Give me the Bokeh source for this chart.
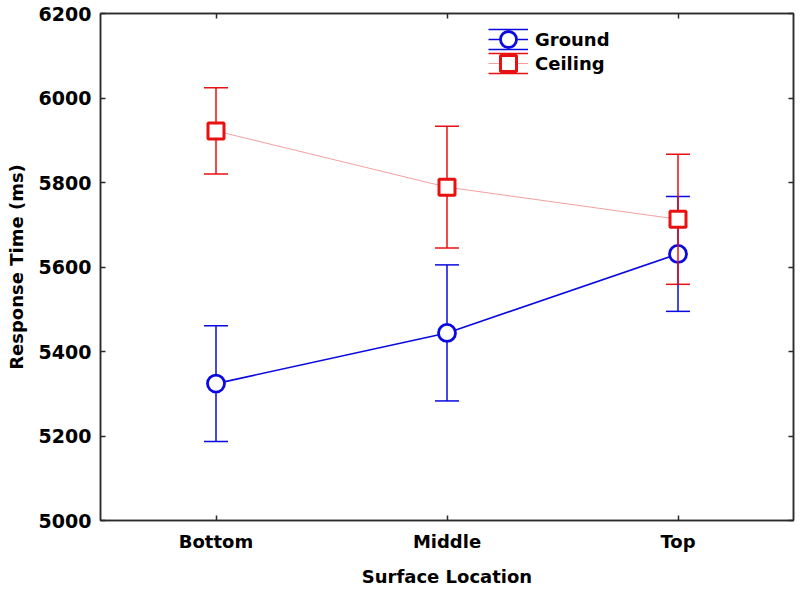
from bokeh.plotting import figure
from bokeh.models import (ColumnDataSource, Whisker, TeeHead, FixedTicker, LinearAxis,
                          Range1d, Legend, LegendItem)
from bokeh.embed import file_html
from bokeh.resources import INLINE

# ---- data ----
categories = ["Bottom", "Middle", "Top"]
ground_mean = [5324, 5444, 5631]
ground_err = [137, 161, 136]
ceiling_mean = [5922, 5789, 5713]
ceiling_err = [102, 144, 154]
y_ticks = [5000, 5200, 5400, 5600, 5800, 6000, 6200]
series_names = ["Ground", "Ceiling"]

FONT = "DejaVu Sans"
BLUE = "#0a0ae0"
RED = "#e81010"
PINK = "#f2a0a0"
AX = "#2a2a2a"

xs = [i + 1 for i in range(len(categories))]

p = figure(width=800, height=589, output_backend="svg", toolbar_location=None,
           x_range=Range1d(0.5, len(categories) + 0.5),
           y_range=Range1d(y_ticks[0], y_ticks[-1]),
           min_border_left=100, min_border_top=13, min_border_right=7, min_border_bottom=69)
p.xgrid.grid_line_color = None
p.ygrid.grid_line_color = None
p.outline_line_color = AX
p.outline_line_width = 1.5
p.background_fill_color = "white"
p.border_fill_color = "white"


def style_axis(ax, labels=True, font_size="18px"):
    ax.axis_line_color = AX
    ax.axis_line_width = 1.5
    ax.major_tick_line_color = AX
    ax.major_tick_line_width = 1.5
    ax.major_tick_in = 5
    ax.major_tick_out = 0
    ax.minor_tick_line_color = None
    if labels:
        ax.major_label_text_font = FONT
        ax.major_label_text_font_style = "bold"
        ax.major_label_text_font_size = font_size
        ax.major_label_text_color = "black"
        ax.axis_label_text_font = FONT
        ax.axis_label_text_font_style = "bold"
        ax.axis_label_text_font_size = "18px"
        ax.axis_label_text_color = "black"
    else:
        ax.major_label_text_font_size = "0px"
        ax.major_label_standoff = 0


# bottom axis
xa = p.xaxis[0]
xa.ticker = FixedTicker(ticks=xs)
xa.major_label_overrides = {x: c for x, c in zip(xs, categories)}
xa.axis_label = "Surface Location"
style_axis(xa, True, "18px")
xa.major_label_standoff = 10
xa.axis_label_standoff = 11

# left axis
ya = p.yaxis[0]
ya.ticker = FixedTicker(ticks=y_ticks)
ya.axis_label = "Response Time (ms)"
style_axis(ya, True, "19px")
ya.major_label_standoff = 9
ya.axis_label_standoff = 9

# top and right axes (ticks only)
top = LinearAxis(ticker=FixedTicker(ticks=xs))
style_axis(top, False)
top.major_label_overrides = {x: "" for x in xs}
p.add_layout(top, "above")
right = LinearAxis(ticker=FixedTicker(ticks=y_ticks))
style_axis(right, False)
right.major_label_overrides = {t: "" for t in y_ticks}
p.add_layout(right, "right")


def make_series(mean, err, color, line_color, line_width, marker, size, mline):
    src = ColumnDataSource(dict(
        x=xs, y=mean,
        upper=[m + e for m, e in zip(mean, err)],
        lower=[m - e for m, e in zip(mean, err)],
    ))
    stems = p.segment(x0="x", y0="lower", x1="x", y1="upper", source=src,
                      line_color=color, line_width=1.5)
    w = Whisker(base="x", upper="upper", lower="lower", source=src, dimension="height",
                line_alpha=0,
                upper_head=TeeHead(size=24, line_color=color, line_width=1.5),
                lower_head=TeeHead(size=24, line_color=color, line_width=1.5))
    p.add_layout(w)
    ln = p.line("x", "y", source=src, line_color=line_color, line_width=line_width)
    sc = p.scatter("x", "y", source=src, marker=marker, size=size,
                   line_color=color, line_width=mline, fill_color="white")
    return stems, ln, sc


g_stems, g_line, g_sc = make_series(ground_mean, ground_err, BLUE, BLUE, 1.6, "circle", 17, 2.8)
c_stems, c_line, c_sc = make_series(ceiling_mean, ceiling_err, RED, PINK, 1.0, "square", 16, 3)

# ---- legend: symbol (line + marker) and error-bar caps ----
FRAME_BOTTOM_SCREEN = 520
LEG_X = 388
entries = [
    (series_names[0], g_line, g_sc, g_stems, 39),
    (series_names[1], c_line, c_sc, c_stems, 63),
]
for name, ln, sc, st, cy in entries:
    main = Legend(items=[LegendItem(label=name, renderers=[ln, sc])],
                  location=(LEG_X, FRAME_BOTTOM_SCREEN - (cy + 20)),
                  glyph_width=40, glyph_height=40, label_height=40,
                  label_standoff=7, padding=0, spacing=0, margin=0,
                  border_line_alpha=0, background_fill_alpha=0,
                  label_text_font=FONT, label_text_font_style="bold",
                  label_text_font_size="18px", label_text_color="black")
    p.add_layout(main)
    for dy in (-10, 10):
        cap = Legend(items=[LegendItem(label=" ", renderers=[st])],
                     location=(LEG_X, FRAME_BOTTOM_SCREEN - (cy + dy + 10)),
                     glyph_width=40, glyph_height=20, label_height=20,
                     label_standoff=0, padding=0, spacing=0, margin=0,
                     border_line_alpha=0, background_fill_alpha=0,
                     label_text_font_size="1px")
        p.add_layout(cap)

open("out.html", "w").write(file_html(p, INLINE))
